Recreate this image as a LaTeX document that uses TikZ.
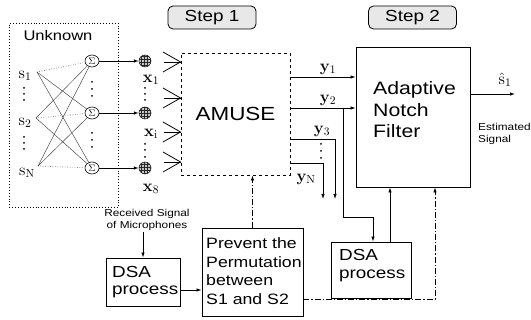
\RequirePackage{fix-cm}
\documentclass[tikz,border=0pt]{standalone}
\usepackage[no-math]{fontspec}
\setmainfont{Liberation Sans}[FakeStretch=1.18]
\usetikzlibrary{arrows.meta,patterns,shapes.geometric}
\begin{document}
\begin{tikzpicture}[x=1pt,y=-1pt,
  >={Latex[length=5pt,width=3.5pt]},
  box/.style={draw, line width=0.9pt, inner sep=0},
  sumnode/.style={ellipse, draw, line width=0.6pt, inner sep=0, minimum width=14pt, minimum height=12pt, font=\fontsize{9.5}{9.5}\selectfont},
  ball/.style={circle, draw, line width=0.5pt, minimum size=12pt, inner sep=0, fill=gray!45, postaction={pattern=grid, pattern color=black!85}},
  ml/.style={font=\fontsize{16.5}{16.5}\selectfont, inner sep=0},
  sig/.style={line width=0.8pt},
  fan/.style={line width=0.45pt, black!75},
  dd/.style={line width=0.8pt, dash pattern=on 6pt off 2pt on 1.2pt off 2pt},
  txt/.style={inner sep=0, align=left, anchor=west},
  stepbox/.style={draw, line width=0.8pt, rounded corners=5pt, fill=gray!18, minimum width=88pt, minimum height=23pt, font=\fontsize{16}{16}\selectfont},
]
\useasboundingbox (0,0) rectangle (531,320);

% Unknown box
\node[draw, dotted, line width=0.9pt, minimum width=109pt, minimum height=184pt, anchor=north west] (unk) at (9,23) {};
\node[font=\fontsize{14}{14}\selectfont, inner sep=0] (unkl) at (58,36) {Unknown};

% sources
\node[ml] (s1) at (25,76) {$\mathrm{s}_1$};
\node[ml] (s2) at (25,123) {$\mathrm{s}_2$};
\node[ml] (sN) at (27,173) {$\mathrm{s}_\mathrm{N}$};
\coordinate (s1o) at (37,72);
\coordinate (s2o) at (36,118);
\coordinate (sNo) at (38,166);

% sums
\node[sumnode] (m1) at (92,61) {$\Sigma$};
\node[sumnode] (m2) at (92,113) {$\Sigma$};
\node[sumnode] (m3) at (92,168) {$\Sigma$};

\draw[fan, dotted, line width=0.7pt] (s1o) -- (m1);
\draw[fan] (s1o) -- (m2); \draw[fan] (s1o) -- (m3);
\draw[fan, dotted, line width=0.7pt] (s2o) -- (m2);
\draw[fan] (s2o) -- (m1); \draw[fan] (s2o) -- (m3);
\draw[fan, dotted, line width=0.7pt] (sNo) -- (m3);
\draw[fan] (sNo) -- (m1); \draw[fan] (sNo) -- (m2);

% mixtures
\node[ball] (x1) at (145,61) {};
\node[ball] (x2) at (145,113) {};
\node[ball] (x3) at (145,168) {};
\draw[sig,->] (m1) -- (x1);
\draw[sig,->] (m2) -- (x2);
\draw[sig,->] (m3) -- (x3);
\node[ml] (x1l) at (151,80) {$\mathbf{x}_1$};
\node[ml] (x2l) at (151,134) {$\mathbf{x}_\mathrm{i}$};
\node[ml] (x3l) at (151,189) {$\mathbf{x}_8$};

% vertical dots
\foreach \px/\py in {24/88,24/94,24/100,24/137,24/143,24/149,
                     92/82,92/89,92/96,92/133,92/140,92/147,
                     145/88,145/94,145/100,145/144,145/150,145/157,
                     321/144,321/151,321/158}
  \fill (\px,\py) circle (1pt);

% AMUSE
\node[draw, dashed, line width=0.9pt, minimum width=109pt, minimum height=122pt, font=\fontsize{19}{19}\selectfont] (amuse) at (235.5,114) {AMUSE};
\node[stepbox] (step1) at (212,17.5) {Step 1};

% input chevrons
\foreach \k/\py in {1/62,2/98,3/132,4/162} {
  \coordinate (in\k) at (amuse.west |- 0,\py);
  \draw[line width=0.8pt] (163,\py-10) -- (in\k) -- (163,\py+10);
  \draw[line width=0.8pt] (164,\py) -- (in\k);
}

% Adaptive Notch Filter
\node[box, minimum width=114pt, minimum height=140pt] (anf) at (413,117) {};
\node[txt, font=\fontsize{18}{21.5}\selectfont] (anft) at (373,110) {Adaptive\\Notch\\Filter};
\node[stepbox] (step2) at (412.5,17.5) {Step 2};

% outputs
\draw[sig,->] (amuse.east |- 0,77) -- (anf.west |- 0,77);
\draw[sig,->] (amuse.east |- 0,108) -- (anf.west |- 0,108);
\node[ml] (y1l) at (328,69) {$\mathbf{y}_1$};
\node[ml] (y2l) at (328,100) {$\mathbf{y}_2$};
\coordinate (y3a) at (335,139);
\coordinate (y3e) at (335,199);
\coordinate (yNa) at (323,163);
\coordinate (yNe) at (323,199);
\draw[line width=0.7pt,->] (amuse.east |- y3a) -- (y3a) -- (y3e);
\draw[line width=0.7pt,->] (amuse.east |- yNa) -- (yNa) -- (yNe);
\node[ml] (y3l) at (322,131) {$\mathbf{y}_3$};
\node[ml] (yNl) at (306,179) {$\mathbf{y}_\mathrm{N}$};

% estimated
\coordinate (shat) at (515,94);
\draw[sig,->] (anf.east |- shat) -- (shat);
\node[ml] (shl) at (505,80) {$\hat{\mathrm{s}}_1$};
\node[txt, font=\fontsize{10}{12}\selectfont] (estl) at (478,134) {Estimated\\Signal};

% DSA 2
\node[box, minimum width=80pt, minimum height=56pt] (dsa2) at (371,270) {};
\node[txt, font=\fontsize{16}{18}\selectfont] (dsa2t) at (339,266) {DSA\\process};
\coordinate (b1) at (343,108);
\coordinate (b2) at (343,217);
\coordinate (b3) at (373,217);
\draw[sig,->] (b1) -- (b2) -- (b3) -- (dsa2.north -| b3);
\draw[sig,->] (dsa2.north -| 390,0) -- (anf.south -| 390,0);

% Prevent box
\node[box, minimum width=101pt, minimum height=88pt] (prev) at (252.5,272) {};
\node[txt, font=\fontsize{15}{18.7}\selectfont] (prevt) at (206,271) {Prevent the\\Permutation\\between\\S1 and S2};
\draw[dd,->] (prev.north) -- (amuse.south -| prev.north);
\coordinate (c1) at (435,299);
\draw[dd,->] (prev.east |- c1) -- (c1) -- (anf.south -| c1);

% DSA 1
\node[box, minimum width=74pt, minimum height=48pt] (dsa1) at (143,282) {};
\node[txt, font=\fontsize{16}{16.5}\selectfont] (dsa1t) at (112,282) {DSA\\process};
\draw[sig,->] (dsa1.east |- 0,290) -- (prev.west |- 0,290);
\node[font=\fontsize{10}{12}\selectfont, align=center, inner sep=0] (recv) at (147,220) {Received Signal\\of Microphones};
\draw[sig,->] (143,232) -- (dsa1.north -| 143,0);
\end{tikzpicture}
\end{document}
